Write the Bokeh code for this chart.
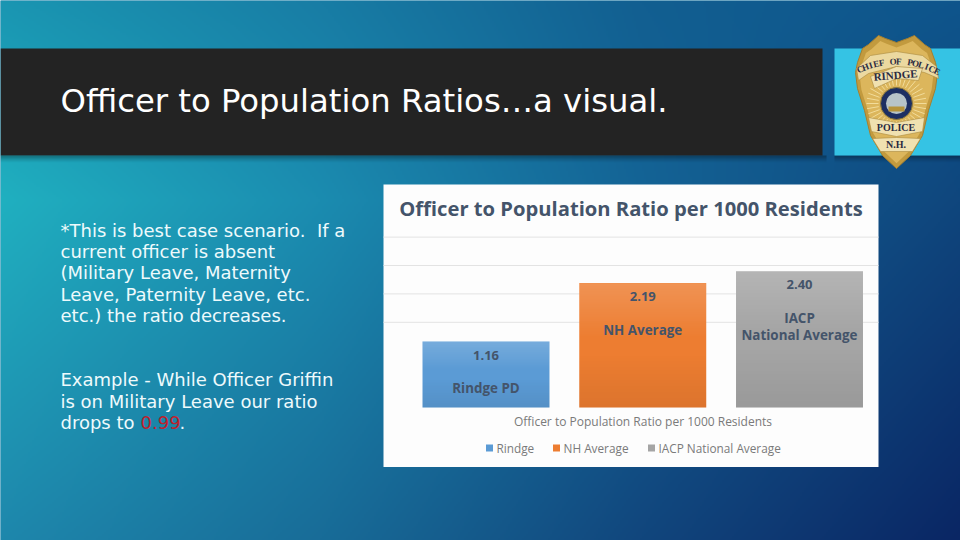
import numpy as np
from bokeh.plotting import figure
from bokeh.models import Range1d
from bokeh.core.properties import value
from bokeh.embed import file_html
from bokeh.resources import INLINE

# ---- chart data ----
categories = ["Rindge", "NH Average", "IACP National Average"]
values = [1.16, 2.19, 2.40]
value_labels = ["1.16", "2.19", "2.40"]
bar_colors = ["#5b9bd5", "#ed7d31", "#a5a5a5"]
gridline_values = [1.5, 2.0, 2.5, 3.0]
bar_label_first = ["Rindge PD", "NH Average", "IACP"]
bar_label_second = ["", "", "National Average"]
chart_title = "Officer to Population Ratio per 1000 Residents"
slide_title = "Officer to Population Ratios\u2026a visual."
note_lines = ["*This is best case scenario.\u00a0 If a", "current officer is absent",
              "(Military Leave, Maternity", "Leave, Paternity Leave, etc.",
              "etc.) the ratio decreases."]
example_lines = ["Example - While Officer Griffin", "is on Military Leave our ratio", "drops to "]
example_value = "0.99"

W, H = 960, 540
U = 156.75; V = 56.8
X0, Y0 = 485.5, 407.0
x_start, x_end = (0 - X0) / U, (960 - X0) / U
y_top, y_bot = (Y0 - 0) / V, (Y0 - 540) / V

p = figure(width=W, height=H, output_backend="svg", toolbar_location=None,
           x_range=Range1d(x_start, x_end), y_range=Range1d(y_bot, y_top),
           x_axis_location=None, y_axis_location=None, min_border=0,
           outline_line_color=None, background_fill_color="#1a7fa8")
p.grid.visible = False
p.extra_x_ranges["px"] = Range1d(0, 960)
p.extra_y_ranges["py"] = Range1d(540, 0)
PX = dict(x_range_name="px", y_range_name="py")


def rgba(r, g, b, a):
    return (np.asarray(a, dtype=np.uint32) << 24) | (np.asarray(b, dtype=np.uint32) << 16) | \
           (np.asarray(g, dtype=np.uint32) << 8) | np.asarray(r, dtype=np.uint32)


def px_image(img, x0, y0, x1, y1):
    p.image_rgba(image=[img], x=[(x0 - X0) / U], y=[(Y0 - y1) / V],
                 dw=[(x1 - x0) / U], dh=[(y1 - y0) / V], level="glyph")


# ---- background ----
gx = np.array([0, 320, 640, 960.0])
gy = np.array([0, 200, 540.0])
ctrl = np.array([
    [[26, 150, 178], [24, 125, 165], [18, 95, 145], [14, 85, 140]],
    [[32, 176, 192], [27, 140, 176], [20, 100, 150], [15, 70, 125]],
    [[30, 135, 172], [24, 108, 152], [17, 70, 125], [10, 38, 100]],
], dtype=float)
xx = (np.arange(480) + .5) * 2
yy = 540 - (np.arange(270) + .5) * 2
bg = np.zeros((270, 480, 3))
for c in range(3):
    tmp = np.array([np.interp(xx, gx, ctrl[r, :, c]) for r in range(3)])
    for i in range(480):
        bg[:, i, c] = np.interp(yy, gy, tmp[:, i])
bg = bg.astype(np.uint32)
px_image(rgba(bg[..., 0], bg[..., 1], bg[..., 2], np.full(bg.shape[:2], 255)), 0, 0, 960, 540)

# ---- banner ----
sh = np.linspace(0, 85, 16).astype(np.uint32)[:, None].repeat(2, axis=1)
px_image(rgba(0 * sh, 0 * sh, 0 * sh, sh), 0, 155, 826, 162)
px_image(rgba(0 * sh, 0 * sh, 0 * sh, sh), 834, 155, 960, 162)
p.quad(left=[0], right=[822], top=[48], bottom=[155], fill_color="#232323", line_color=None, **PX)
p.quad(left=[834], right=[960], top=[48], bottom=[155], fill_color="#35c3e4", line_color=None, **PX)
p.text(x=[60], y=[100], text=[slide_title], text_color="#ffffff", text_font=value("DejaVu Sans"),
       text_font_size="32.3px", text_baseline="middle", **PX)

# ---- badge ----
cx = 896.0
def mz(pts):
    xs = [a for a, b in pts] + [2 * cx - a for a, b in reversed(pts)]
    ys = [b for a, b in pts] + [b for a, b in reversed(pts)]
    return xs, ys
outline = [(896, 42), (885, 38), (878, 35), (868, 44), (862, 48), (857, 62), (855, 72), (857, 88), (864, 110),
           (870, 135), (882, 155), (896, 168)]
xs, ys = mz(outline)
p.patch(x=xs, y=ys, fill_color="#c29a3e", line_color="#a57f2f", line_width=1, **PX)
inner = [(a + (896 - a) * .1, b + (103 - b) * .08) for a, b in outline]
xs, ys = mz(inner)
p.patch(x=xs, y=ys, fill_color="#dcb65c", line_color=None, **PX)
ang = np.linspace(0, 2 * np.pi, 36, endpoint=False)
p.segment(x0=list(896 + 18 * np.cos(ang)), y0=list(103 + 18 * np.sin(ang)),
          x1=list(896 + 30 * np.cos(ang)), y1=list(103 + 30 * np.sin(ang)),
          line_color="#f2dc9a", line_width=1, **PX)
p.patch(x=[856, 870, 896, 922, 936, 938, 924, 896, 868, 858],
        y=[68, 55, 51, 55, 66, 78, 72, 66, 73, 80], fill_color="#ecd9a0", line_color="#a98a3e", line_width=.6, **PX)
p.patch(x=[870, 896, 922, 918, 896, 874], y=[76, 66, 68, 80, 78, 88],
        fill_color="#f0e1b0", line_color="#a98a3e", line_width=.6, **PX)
p.patch(x=[868, 896, 924, 922, 896, 871], y=[117, 122, 117, 131, 136, 131],
        fill_color="#f0e1b0", line_color="#a98a3e", line_width=.6, **PX)
p.patch(x=[872, 896, 920, 912, 880], y=[138, 137, 138, 151, 151],
        fill_color="#f0e1b0", line_color="#a98a3e", line_width=.6, **PX)
p.circle(x=[896], y=[103], radius=16, fill_color="#1d2f62", line_color="#8d7a3c", **PX)
p.circle(x=[896], y=[103], radius=10.5, fill_color="#b7c4c8", line_color=None, **PX)
p.quad(left=[888], right=[904], top=[106], bottom=[111], fill_color="#b6943a", line_color=None, **PX)
arc = "CHIEF OF POLICE"
n = len(arc)
for i, ch in enumerate(arc):
    a = np.radians((i - (n - 1) / 2) * 3.75 + 1.5)
    R = 87.0
    p.text(x=[896 + R * np.sin(a)], y=[148 - R * np.cos(a)], text=[ch], angle=[-a],
           text_font=value("Liberation Serif"), text_font_style="bold", text_font_size="9px", text_color="#2b2a40",
           text_align="center", text_baseline="middle", **PX)
p.text(x=[895], y=[74.5], text=["RINDGE"], angle=[0.08], text_font=value("Liberation Serif"), text_font_style="bold",
       text_font_size="11px", text_color="#2b2a40", text_align="center", text_baseline="middle", **PX)
for txt, yy_, sz in [("POLICE", 126.5, "10px"), ("N.H.", 143.5, "10px")]:
    p.text(x=[895.5], y=[yy_], text=[txt], text_font=value("Liberation Serif"), text_font_style="bold",
           text_font_size=sz, text_color="#2b2a40", text_align="center", text_baseline="middle", **PX)

# ---- body text ----
BODY = dict(text_font=value("DejaVu Sans"), text_font_size="18px", text_baseline="middle", text_color="#eefafc")
p.text(x=[60] * 5, y=[229.5, 250.5, 272, 293.5, 315], text=note_lines, **BODY, **PX)
p.text(x=[60] * 3, y=[378.5, 400.5, 422], text=example_lines, **BODY, **PX)
b2 = dict(BODY); b2["text_color"] = "#c0202c"
p.text(x=[140], y=[422], text=[example_value], **b2, **PX)
p.text(x=[179], y=[422], text=["."], **BODY, **PX)

# ---- chart panel ----
p.quad(left=[383], right=[878], top=[184], bottom=[466.5], fill_color="#fdfdfd", line_color=None, **PX)
p.text(x=[630.5], y=[207.5], text=[chart_title], text_color="#44546a", text_font=value("Open Sans"),
       text_font_style="bold", text_font_size="20.2px", text_align="center", text_baseline="middle", **PX)

panel_l, panel_r = (383 - X0) / U, (878 - X0) / U
p.segment(x0=[panel_l] * len(gridline_values), x1=[panel_r] * len(gridline_values),
          y0=gridline_values, y1=gridline_values, line_color="#e3e3e3", line_width=1)

idx = list(range(len(values)))
BW = 0.81
p.vbar(x=idx, top=values, bottom=0, width=BW, fill_color=bar_colors, line_color=None)
t = np.linspace(0, 1, 128)[:, None].repeat(2, axis=1)
white = np.clip((t - .55) / .45, 0, 1) * 45
black = np.clip((.45 - t) / .45, 0, 1) * 18
ramp = rgba((white > 0) * 255, (white > 0) * 255, (white > 0) * 255, (white + black).astype(np.uint32))
p.image_rgba(image=[ramp] * 3, x=[i - BW / 2 for i in idx], y=[0] * 3, dw=[BW] * 3, dh=values, level="glyph")

LAB = dict(text_color="#44546a", text_font=value("Open Sans"), text_font_style="bold", text_align="center",
           text_baseline="middle")
p.text(x=idx, y=values, text=value_labels, y_offset=13.5, text_font_size="13px", **LAB)
p.text(x=idx, y=values, text=bar_label_first, y_offset=46.5, text_font_size="13.4px", **LAB)
p.text(x=idx, y=values, text=bar_label_second, y_offset=63.5, text_font_size="13.4px", **LAB)

p.text(x=[642.5], y=[421], text=[chart_title], text_color="#7a7a7a", text_font=value("Open Sans"),
       text_font_size="12px", text_align="center", text_baseline="middle", **PX)

leg_sq = [489, 556, 651]
leg_tx = [496, 563, 658]
p.scatter(x=leg_sq, y=[447.5] * 3, marker="square", size=7, fill_color=bar_colors, line_color=None, **PX)
p.text(x=leg_tx, y=[447] * 3, text=categories, text_color="#7a7a7a", text_font=value("Open Sans"),
       text_font_size="11.8px", text_baseline="middle", **PX)

open("out.html", "w").write(file_html(p, INLINE))
